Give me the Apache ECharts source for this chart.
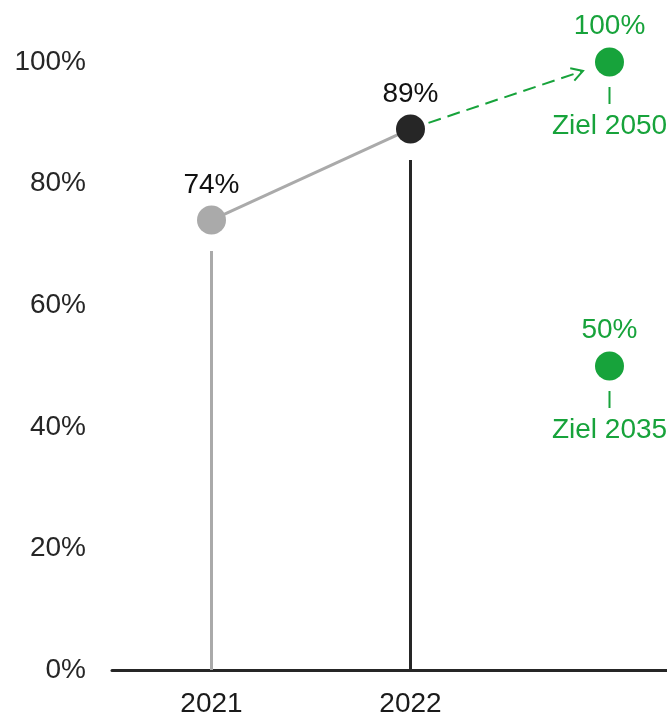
<!DOCTYPE html>
<html>
<head>
<meta charset="utf-8">
<script src="https://cdn.jsdelivr.net/npm/echarts@6/dist/echarts.min.js"></script>
<style>
  html, body { margin: 0; padding: 0; background: #fff; }
  #chart { width: 667px; height: 714px; }
</style>
</head>
<body>
<div id="chart"></div>
<script>
const years = ['2021', '2022', ''];
const actual = [74, 89];
const actualColors = ['#aaaaaa', '#262626'];
const goalNames = ['Ziel 2050', 'Ziel 2035'];
const goalValues = [100, 50];
const yTicks = [0, 20, 40, 60, 80, 100];

const green = '#17a33b';
const font = 'Liberation Sans, Arial, sans-serif';
const fs = 28;

echarts.init(document.getElementById('chart'))
    .setOption({
        animation: false,
        textStyle: {
            fontFamily: font,
            fontSize: fs
        },
        grid: {
            left: 112,
            right: -42,
            top: 62,
            bottom: 44,
            outerBoundsMode: 'none'
        },
        xAxis: {
            type: 'category',
            data: years,
            axisTick: { show: false },
            axisLine: { lineStyle: { color: '#262626', width: 3 } },
            axisLabel: { color: '#1a1a1a', fontSize: fs, margin: 20, fontFamily: font }
        },
        yAxis: {
            type: 'value',
            min: yTicks[0],
            max: yTicks[yTicks.length - 1],
            interval: 20,
            splitLine: { show: false },
            axisLine: { show: false },
            axisTick: { show: false },
            axisLabel: {
                color: '#262626',
                fontSize: fs,
                margin: 26,
                fontFamily: font,
                formatter: '{value}%'
            }
        },
        series: [
            {
                // stems below the dots
                type: 'custom',
                data: actual.map((v, i) => [i, v]),
                z: 1,
                renderItem: function (params, api) {
                    const i = params.dataIndex;
                    const base = api.coord([i, 0]);
                    const top = api.coord([i, api.value(1)]);
                    return {
                        type: 'line',
                        shape: { x1: top[0], y1: top[1] + 31, x2: base[0], y2: base[1] },
                        style: { stroke: actualColors[i], lineWidth: 3 }
                    };
                }
            },
            {
                type: 'line',
                data: actual.map((v, i) => ({
                    value: v,
                    itemStyle: { color: actualColors[i], opacity: 1 }
                })),
                z: 3,
                symbol: 'circle',
                symbolSize: 29,
                lineStyle: { color: '#aaaaaa', width: 3 },
                label: {
                    show: true,
                    position: 'top',
                    distance: 6,
                    color: '#111',
                    fontSize: fs,
                    fontFamily: font,
                    formatter: p => p.value + '%'
                }
            },
            {
                // dashed arrow to the 2050 goal
                type: 'custom',
                data: [[1, actual[1], 2, goalValues[0]]],
                z: 2,
                renderItem: function (params, api) {
                    const a = api.coord([api.value(0), api.value(1)]);
                    const b = api.coord([api.value(2), api.value(3)]);
                    const dx = b[0] - a[0], dy = b[1] - a[1];
                    const len = Math.sqrt(dx * dx + dy * dy);
                    const ux = dx / len, uy = dy / len;
                    const s = [a[0] + ux * 19, a[1] + uy * 19];
                    const e = [b[0] - ux * 28, b[1] - uy * 28];
                    const ang = Math.atan2(uy, ux);
                    const arm = 13, spread = Math.PI / 6;
                    const p1 = [e[0] - arm * Math.cos(ang - spread), e[1] - arm * Math.sin(ang - spread)];
                    const p2 = [e[0] - arm * Math.cos(ang + spread), e[1] - arm * Math.sin(ang + spread)];
                    return {
                        type: 'group',
                        children: [
                            {
                                type: 'line',
                                shape: { x1: s[0], y1: s[1], x2: e[0], y2: e[1] },
                                style: { stroke: green, lineWidth: 2, lineDash: [13, 7] }
                            },
                            {
                                type: 'polyline',
                                shape: { points: [p1, e, p2] },
                                style: { stroke: green, lineWidth: 2, fill: null }
                            }
                        ]
                    };
                }
            },
            {
                type: 'scatter',
                data: goalValues.map(v => [2, v]),
                symbolSize: 29,
                z: 3,
                itemStyle: { color: green, opacity: 1 },
                label: {
                    show: true,
                    position: 'top',
                    distance: 7,
                    color: green,
                    fontSize: fs,
                    fontFamily: font,
                    formatter: p => p.value[1] + '%'
                }
            },
            {
                // goal captions with small tick
                type: 'custom',
                data: goalValues.map((v, i) => [2, v, i]),
                z: 3,
                renderItem: function (params, api) {
                    const c = api.coord([api.value(0), api.value(1)]);
                    return {
                        type: 'group',
                        children: [
                            {
                                type: 'line',
                                shape: { x1: c[0], y1: c[1] + 25, x2: c[0], y2: c[1] + 42 },
                                style: { stroke: green, lineWidth: 2 }
                            },
                            {
                                type: 'text',
                                style: {
                                    x: c[0],
                                    y: c[1] + 64,
                                    text: goalNames[api.value(2)],
                                    fill: green,
                                    font: fs + 'px ' + font,
                                    align: 'center',
                                    verticalAlign: 'middle'
                                }
                            }
                        ]
                    };
                }
            }
        ]
    });
</script>
</body>
</html>
